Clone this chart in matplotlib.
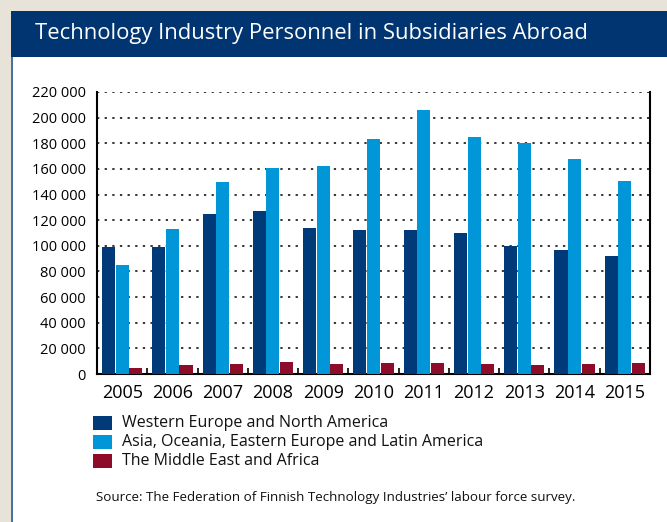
import matplotlib
matplotlib.use("Agg")
import matplotlib.pyplot as plt
from matplotlib.patches import Rectangle
from matplotlib.ticker import FuncFormatter
import numpy as np

plt.rcParams['font.family'] = ['Open Sans', 'DejaVu Sans']

years = ['2005', '2006', '2007', '2008', '2009', '2010', '2011', '2012', '2013', '2014', '2015']
series_names = ['Western Europe and North America',
                'Asia, Oceania, Eastern Europe and Latin America',
                'The Middle East and Africa']
western = [99000, 99000, 125000, 127000, 114000, 112000, 112000, 110000, 100000, 97000, 92000]
asia = [85000, 113000, 150000, 160500, 162000, 183000, 206000, 185000, 180000, 167500, 150500]
mideast = [5000, 7000, 8000, 9500, 8000, 8500, 8500, 8000, 7000, 8000, 8500]
yticks = list(range(0, 220001, 20000))

colors = ['#003A78', '#0096D8', '#8C0C2A']
title_color = '#003571'
beige = '#E7E3D9'

W, H = 667, 522
fig = plt.figure(figsize=(W / 100, H / 100), dpi=100)
fig.patch.set_facecolor(beige)

def fx(px): return px / W
def fy(py): return 1 - py / H

# white panel and title bar
fig.patches.append(Rectangle((fx(11), 0), 1 - fx(11), fy(57), transform=fig.transFigure,
                             facecolor='white', edgecolor='none', zorder=0))
fig.patches.append(Rectangle((fx(11), 0), fx(1.5), fy(57), transform=fig.transFigure,
                             facecolor='#4A6FA0', edgecolor='none', zorder=0))
fig.patches.append(Rectangle((fx(11), fy(57)), 1 - fx(11), fy(11) - fy(57), transform=fig.transFigure,
                             facecolor=title_color, edgecolor='none', zorder=0))
fig.text(fx(35), fy(34), 'Technology Industry Personnel in Subsidiaries Abroad',
         color='white', fontsize=15.8, va='center', ha='left')

ax = fig.add_axes([fx(97), fy(374), fx(650) - fx(97), fy(92) - fy(374)])
ax.set_zorder(5)
ax.set_facecolor('none')

x = np.arange(len(years))
w = 0.26
offs = [-0.27, 0.0, 0.27]
for vals, c, o, name in zip([western, asia, mideast], colors, offs, series_names):
    ax.bar(x + o, vals, width=w, color=c, label=name, zorder=3)

ax.set_xlim(-0.5, len(years) - 0.5)
ax.set_ylim(0, 220000)
ax.set_yticks(yticks)
ax.yaxis.set_major_formatter(FuncFormatter(lambda v, p: f"{int(v):,}".replace(',', ' ')))
ax.tick_params(axis='y', length=0, pad=8, labelsize=10.5)

ax.set_xticks(x)
ax.set_xticklabels(years)
ax.set_xticks(np.arange(-0.5, len(years) + 0.5, 1), minor=True)
ax.tick_params(axis='x', which='major', length=0, pad=7, labelsize=13)
ax.tick_params(axis='x', which='minor', direction='in', length=4, width=1.2, color='black')

for v in yticks[1:]:
    ax.axhline(v, color='black', linestyle=(0, (1.5, 3.5)), linewidth=1.1, zorder=1)

ax.spines['top'].set_visible(False)
for s in ['left', 'right', 'bottom']:
    ax.spines[s].set_color('black')
    ax.spines[s].set_linewidth(1.5)

# legend
for i, (name, c) in enumerate(zip(series_names, colors)):
    ytop = 416 + i * 19
    fig.patches.append(Rectangle((fx(93), fy(ytop + 14)), fx(19), fy(ytop) - fy(ytop + 14),
                                 transform=fig.transFigure, facecolor=c, edgecolor='none', zorder=2))
    fig.text(fx(122), fy(ytop + 7), name, fontsize=11.5, va='center', ha='left', color='#111111')

fig.text(fx(96), fy(498), "Source: The Federation of Finnish Technology Industries\u2019 labour force survey.",
         fontsize=9.6, va='center', ha='left', color='#111111')

fig.savefig('out.png', dpi=100, facecolor=fig.get_facecolor())
